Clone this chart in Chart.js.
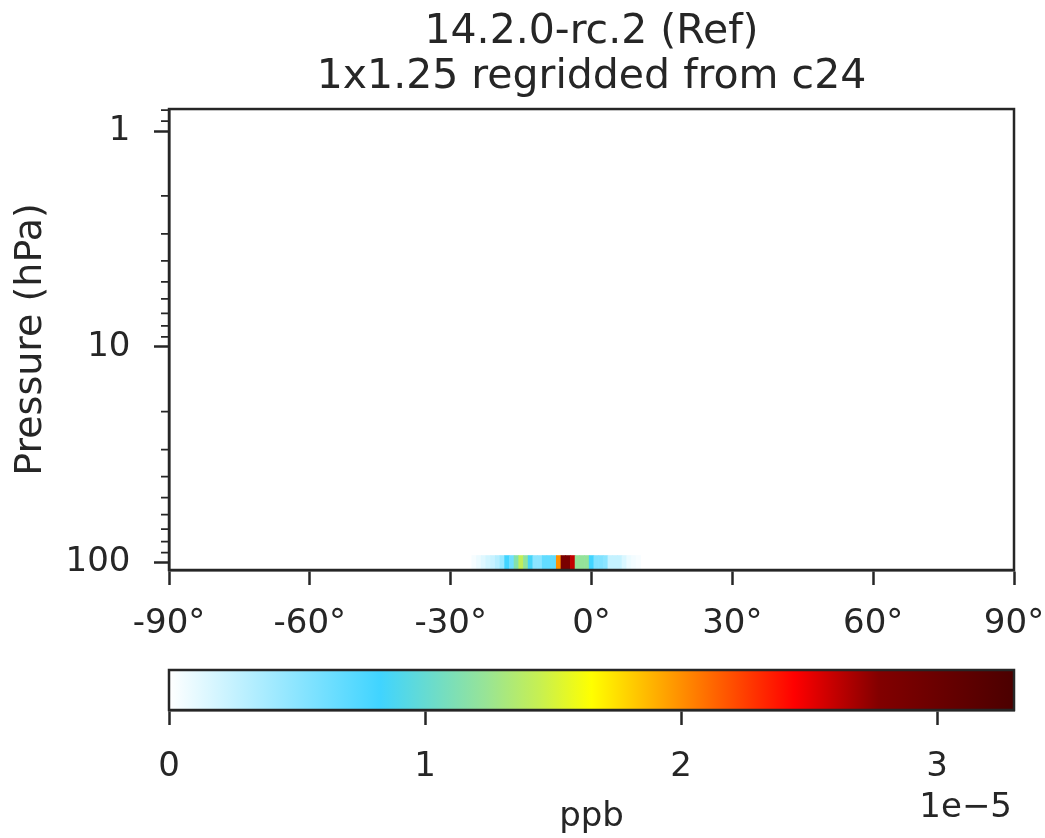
<!DOCTYPE html>
<html>
<head>
<meta charset="utf-8">
<script src="https://cdn.jsdelivr.net/npm/chart.js@4.4.1/dist/chart.umd.min.js"></script>
<style>
  html, body { margin: 0; padding: 0; background: #fff; }
  #wrap { position: relative; width: 1045px; height: 838px; background: #fff; }
  #zonal { position: absolute; left: 0; top: 0; }
  #colorbar { position: absolute; left: 0; top: 650px; }
</style>
</head>
<body>
<div id="wrap">
  <canvas id="zonal" width="1045" height="650"></canvas>
  <canvas id="colorbar" width="1045" height="188"></canvas>
</div>
<script>
// --- data: zonal mean at the lowest plotted level (values x 1e-5 ppb) ---
const lats = [-25, -24, -23, -22, -21, -20, -19, -18, -17, -16, -15, -14, -13, -12, -11, -10, -9, -8,
              -7, -6, -5, -4, -3, -2, -1, 0, 1, 2, 3, 4, 5, 6, 7, 8, 9, 10];
const conc = [0.04, 0.08, 0.14, 0.20, 0.24, 0.32, 0.45, 0.82, 0.62, 1.15, 1.42, 1.20, 0.85, 0.50, 0.50, 0.68, 0.68, 0.68,
              2.00, 2.85, 2.85, 2.60, 1.22, 1.22, 1.22, 0.82, 0.55, 0.55, 0.50, 0.25, 0.25, 0.25, 0.16, 0.08, 0.05, 0.03];
const levelEdges = [92.8, 108.3];   // hPa, edges of the level with data
const yRange = [0.791, 108.3];      // hPa, top and bottom of the axis
const xTicks = [-90, -60, -30, 0, 30, 60, 90];
const yTicks = [1, 10, 100];
const yMinorTicks = [0.8, 0.9, 2, 3, 4, 5, 6, 7, 8, 9, 20, 30, 40, 50, 60, 70, 80, 90];
const cbTicks = [0, 1, 2, 3];
const cbMax = 3.3;

const INK = '#262626';
const FONT = 'DejaVu Sans';

// white -> cyan -> yellow -> red -> dark red
const cmapStops = [
  [0.00, [255, 255, 255]],
  [0.25, [64, 212, 255]],
  [0.375, [152, 228, 150]],
  [0.44, [200, 240, 80]],
  [0.50, [255, 255, 0]],
  [0.62, [255, 128, 0]],
  [0.74, [255, 0, 0]],
  [0.84, [130, 0, 0]],
  [1.00, [75, 0, 0]]
];

function cmap(f) {
  f = Math.max(0, Math.min(1, f));
  for (let i = 1; i < cmapStops.length; i++) {
    const [p1, c1] = cmapStops[i];
    const [p0, c0] = cmapStops[i - 1];
    if (f <= p1) {
      const t = (f - p0) / (p1 - p0);
      const c = c0.map((v, k) => Math.round(v + (c1[k] - v) * t));
      return `rgb(${c[0]},${c[1]},${c[2]})`;
    }
  }
  return 'rgb(75,0,0)';
}

const axisGrid = { drawOnChartArea: false, drawTicks: true, tickLength: 15, tickWidth: 2.5, tickColor: INK, offset: false };
const axisBorder = { display: true, color: INK, width: 2.5 };
const tickFont = { family: FONT, size: 34 };

// keep edge labels from shrinking the plot area
function noEdgePadding(s) {
  s.paddingLeft = 0; s.paddingRight = 0; s.paddingTop = 0; s.paddingBottom = 0;
}

const framePlugin = {
  id: 'frame',
  afterDatasetsDraw(chart) {
    const { ctx, chartArea: a } = chart;
    ctx.save();
    ctx.strokeStyle = INK;
    ctx.lineWidth = 2.5;
    ctx.strokeRect(a.left, a.top, a.right - a.left, a.bottom - a.top);
    ctx.restore();
  }
};

const minorTickPlugin = {
  id: 'minorTicks',
  afterDraw(chart) {
    const { ctx, chartArea: a } = chart;
    const ys = chart.scales.y;
    ctx.save();
    ctx.strokeStyle = INK;
    ctx.lineWidth = 1.8;
    ctx.beginPath();
    yMinorTicks.forEach(v => {
      const py = ys.getPixelForValue(v);
      if (py < a.top - 0.5 || py > a.bottom + 0.5) return;
      ctx.moveTo(a.left - 8, py);
      ctx.lineTo(a.left, py);
    });
    ctx.stroke();
    ctx.restore();
  }
};

const offsetTextPlugin = {
  id: 'offsetText',
  afterDraw(chart) {
    const { ctx } = chart;
    const xs = chart.scales.x;
    ctx.save();
    ctx.fillStyle = INK;
    ctx.font = `34px "${FONT}"`;
    ctx.textAlign = 'right';
    ctx.textBaseline = 'middle';
    ctx.fillText('1e\u22125', xs.right - 2, xs.bottom - 30);
    ctx.restore();
  }
};

// --- zonal mean panel ---
new Chart(document.getElementById('zonal'), {
  type: 'bar',
  data: {
    datasets: [{
      data: lats.map(lat => ({ x: lat, y: levelEdges })),
      backgroundColor: conc.map(v => cmap(v / cbMax)),
      borderWidth: 0,
      barPercentage: 1,
      categoryPercentage: 1
    }]
  },
  options: {
    responsive: false,
    animation: false,
    events: [],
    layout: { padding: { left: 0, right: 31, top: 0, bottom: 0 } },
    plugins: {
      legend: { display: false },
      tooltip: { enabled: false },
      title: {
        display: true,
        fullSize: false,
        text: ['14.2.0-rc.2 (Ref)', '1x1.25 regridded from c24'],
        color: INK,
        font: { family: FONT, size: 41, weight: 'normal', lineHeight: 1.098 },
        padding: { top: 10, bottom: 9 }
      }
    },
    scales: {
      x: {
        type: 'linear', min: -90, max: 90, offset: false,
        grid: axisGrid,
        border: axisBorder,
        ticks: { color: INK, font: tickFont, padding: 18.5, maxRotation: 0, autoSkip: false, callback: v => v + '°' },
        afterBuildTicks: s => { s.ticks = xTicks.map(v => ({ value: v })); },
        afterFit: s => { s.height = 80; noEdgePadding(s); }
      },
      y: {
        type: 'logarithmic', reverse: true, min: yRange[0], max: yRange[1],
        grid: axisGrid,
        border: axisBorder,
        ticks: { color: INK, font: tickFont, padding: 23.5, callback: v => String(v) },
        title: { display: true, text: 'Pressure (hPa)', color: INK, font: { family: FONT, size: 38 }, padding: { top: 8, bottom: 0 } },
        afterBuildTicks: s => { s.ticks = yTicks.map(v => ({ value: v })); },
        afterFit: s => { s.width = 169; noEdgePadding(s); }
      }
    }
  },
  plugins: [framePlugin, minorTickPlugin]
});

// --- colorbar ---
new Chart(document.getElementById('colorbar'), {
  type: 'bar',
  data: {
    labels: ['ppb'],
    datasets: [{
      data: [cbMax],
      backgroundColor: ctx => {
        const chart = ctx.chart;
        const xs = chart.scales.x;
        if (!chart.chartArea || !xs) return 'rgba(0,0,0,0)';
        const x0 = xs.getPixelForValue(0);
        const x1 = xs.getPixelForValue(cbMax);
        const g = chart.ctx.createLinearGradient(x0, 0, x1, 0);
        cmapStops.forEach(([p, c]) => g.addColorStop(p, `rgb(${c[0]},${c[1]},${c[2]})`));
        return g;
      },
      borderWidth: 0,
      barPercentage: 1,
      categoryPercentage: 1
    }]
  },
  options: {
    indexAxis: 'y',
    responsive: false,
    animation: false,
    events: [],
    layout: { padding: { left: 169, right: 31, top: 20, bottom: 0 } },
    plugins: { legend: { display: false }, tooltip: { enabled: false } },
    scales: {
      x: {
        type: 'linear', min: 0, max: cbMax,
        grid: axisGrid,
        border: axisBorder,
        ticks: { color: INK, font: tickFont, padding: 22, maxRotation: 0, autoSkip: false, callback: v => String(v) },
        title: { display: true, text: 'ppb', color: INK, font: { family: FONT, size: 34 }, padding: { top: 0, bottom: 0 } },
        afterBuildTicks: s => { s.ticks = cbTicks.map(v => ({ value: v })); },
        afterFit: s => { s.height = 128; noEdgePadding(s); }
      },
      y: { display: false }
    }
  },
  plugins: [framePlugin, offsetTextPlugin]
});
</script>
</body>
</html>
